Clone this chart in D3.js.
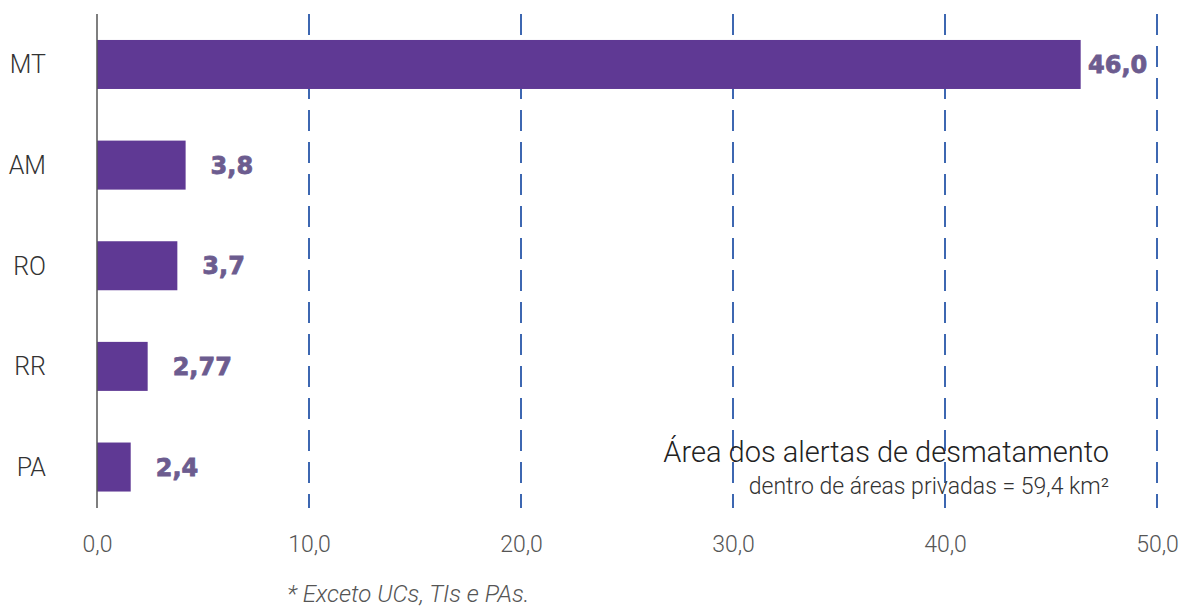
<!DOCTYPE html>
<html>
<head>
<meta charset="utf-8">
<script src="https://cdn.jsdelivr.net/npm/d3@7"></script>
<style>
  html, body { margin: 0; padding: 0; background: #fff; }
  svg { display: block; }
</style>
</head>
<body>
<svg id="chart" width="1184" height="609"></svg>
<script>
// ---- data ----
const categories = ["MT", "AM", "RO", "RR", "PA"];
const barValues = [46.4, 4.18, 3.79, 2.39, 1.59];       // bar lengths as drawn
const valueLabels = ["46,0", "3,8", "3,7", "2,77", "2,4"]; // printed labels
const xTicks = [0, 10, 20, 30, 40, 50];
const titleText = "Área dos alertas de desmatamento";
const subtitleText = "dentro de áreas privadas = 59,4 km²";
const footnoteText = "* Exceto UCs, TIs e PAs.";

// ---- layout ----
const svg = d3.select("#chart");
const x = d3.scaleLinear().domain([0, 50]).range([97, 1157]);
const y = d3.scaleBand().domain(categories).range([14, 517.5])
  .paddingInner(0.513).paddingOuter(0.258);
const plotTop = 14, plotBottom = 508;

const locale = d3.formatLocale({decimal: ",", thousands: ".", grouping: [3], currency: ["R$", ""]});
const fmt = locale.format(".1f");

// gridlines (dashed)
svg.append("g").selectAll("line").data(xTicks.filter(d => d > 0)).join("line")
  .attr("x1", d => x(d)).attr("x2", d => x(d))
  .attr("y1", plotTop).attr("y2", plotBottom)
  .attr("stroke", "#3d67b1").attr("stroke-width", 2)
  .attr("stroke-dasharray", "21,11");

// bars
svg.append("g").selectAll("rect").data(categories).join("rect")
  .attr("x", x(0))
  .attr("y", d => y(d))
  .attr("width", (d, i) => x(barValues[i]) - x(0))
  .attr("height", y.bandwidth())
  .attr("fill", "#5f3994");

// vertical axis line
svg.append("line")
  .attr("x1", x(0)).attr("x2", x(0))
  .attr("y1", plotTop).attr("y2", plotBottom)
  .attr("stroke", "#555").attr("stroke-width", 1.5);

// value labels
svg.append("g").selectAll("text").data(categories).join("text")
  .attr("x", (d, i) => Math.min(x(barValues[i]) + 25, x(50) - 69))
  .attr("y", d => y(d) + y.bandwidth() / 2)
  .attr("dy", "0.36em")
  .attr("font-family", "'DejaVu Sans', sans-serif")
  .attr("font-weight", "bold")
  .attr("font-size", 24)
  .attr("fill", "#6c5c8f")
  .attr("stroke", "#6c5c8f")
  .attr("stroke-width", 0.8)
  .text((d, i) => valueLabels[i]);

// category axis
const yAxis = svg.append("g").attr("transform", `translate(${x(0)},0)`)
  .call(d3.axisLeft(y).tickSize(0).tickPadding(51));
yAxis.select(".domain").remove();
yAxis.selectAll("text")
  .attr("font-family", "'Roboto', sans-serif")
  .attr("font-weight", 300)
  .attr("font-size", 25)
  .attr("fill", "#333")
  .attr("dy", "0.36em");

// x axis
const xAxis = svg.append("g").attr("transform", `translate(0,${plotBottom})`)
  .call(d3.axisBottom(x).tickValues(xTicks).tickFormat(fmt).tickSize(0).tickPadding(28));
xAxis.select(".domain").remove();
xAxis.selectAll("text")
  .attr("font-family", "'Roboto', sans-serif")
  .attr("font-weight", 300)
  .attr("font-size", 23)
  .attr("fill", "#555");

// title block
svg.append("text")
  .attr("x", 1109).attr("y", 462)
  .attr("text-anchor", "end")
  .attr("font-family", "'Roboto', sans-serif")
  .attr("font-weight", 300)
  .attr("font-size", 29)
  .attr("fill", "#222")
  .text(titleText);
svg.append("text")
  .attr("x", 1109).attr("y", 494)
  .attr("text-anchor", "end")
  .attr("font-family", "'Roboto', sans-serif")
  .attr("font-weight", 300)
  .attr("font-size", 23)
  .attr("fill", "#333")
  .text(subtitleText);

// footnote
svg.append("text")
  .attr("x", 287).attr("y", 602)
  .attr("font-family", "'Roboto', sans-serif")
  .attr("font-weight", 300)
  .attr("font-style", "italic")
  .attr("font-size", 24)
  .attr("fill", "#555")
  .text(footnoteText);
</script>
</body>
</html>
